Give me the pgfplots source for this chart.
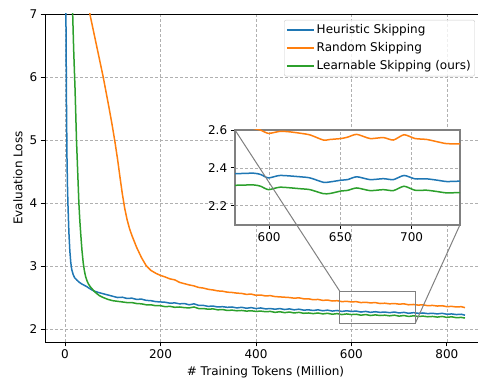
\documentclass[border=0pt]{standalone}
\usepackage{pgfplots}
\pgfplotsset{compat=1.18}
\usepackage{fontspec}
\setmainfont{DejaVu Sans}
\definecolor{cblue}{HTML}{1F77B4}
\definecolor{corange}{HTML}{FF7F0E}
\definecolor{cgreen}{HTML}{2CA02C}
\definecolor{gridc}{HTML}{B0B0B0}
\definecolor{legc}{HTML}{CCCCCC}
\begin{document}
\begin{tikzpicture}[font=\fontsize{12bp}{14bp}\selectfont]
\useasboundingbox (-45bp,-37bp) rectangle (433bp,342bp);
\begin{axis}[
  name=main, at={(0bp,0bp)}, anchor=south west,
  scale only axis, width=441bp, height=328bp,
  xmin=-42, xmax=882, ymin=1.8, ymax=7,
  xtick={0,200,400,600,800}, ytick={2,3,4,5,6,7},
  /pgf/number format/assume math mode=true,
  tick align=outside, tick pos=left, major tick length=4.3bp,
  tick style={black, line width=0.8bp},
  axis line style={black, line width=0.8bp},
  grid=major, grid style={gridc, line width=0.7bp, dash pattern=on 3bp off 2bp},
  xlabel={\# Training Tokens (Million)}, ylabel={Evaluation Loss},
  xlabel style={at={(axis description cs:0.5,-0.0906)}, anchor=center},
  ylabel style={at={(axis description cs:-0.0612,0.5)}, anchor=center},
  legend cell align=left,
  legend image code/.code={\draw[#1] (-3bp,0bp) -- (24bp,0bp);},
  legend style={at={(axis description cs:0.975,0.982)}, anchor=north east,
    draw=legc, rounded corners=2bp, fill=white, fill opacity=0.8, text opacity=1,
    inner sep=2bp, row sep=2bp,
    nodes={inner sep=2bp, text height=9bp, text depth=3bp}},
  every axis plot/.append style={line width=1.5bp},
]
\addplot[cblue] coordinates {
(0,12) (1,9) (2,6.8) (3,5.6) (4,4.75) (5,4.3) (6,4.0) (8,3.55) (10,3.25) (12,3.06) (14,2.95) (17,2.87) (20,2.82) (25,2.78) (30,2.745) (35,2.72) (40,2.70) (45,2.68) (52,2.645) (60,2.61) (70,2.585)
(80,2.565) (90,2.545) (100,2.525) (110,2.505) (120,2.51) (130,2.49) (140,2.495) (150,2.475) (160,2.48) (170,2.46)
(180,2.455) (190,2.44) (200,2.435) (210,2.43) (220,2.415) (230,2.42) (240,2.405) (250,2.41) (260,2.39) (270,2.405)
(280,2.38) (290,2.38) (300,2.365) (310,2.37) (320,2.355) (330,2.36) (340,2.35) (350,2.355) (360,2.34) (370,2.35)
(380,2.335) (390,2.345) (400,2.33) (410,2.34) (420,2.325) (430,2.33) (440,2.32) (450,2.33) (460,2.315) (470,2.325)
(480,2.31) (490,2.32) (500,2.305) (510,2.31) (520,2.30) (530,2.31) (540,2.295) (550,2.305) (560,2.29) (570,2.30)
(580,2.285) (590,2.295) (600,2.285) (610,2.29) (620,2.275) (630,2.285) (640,2.27) (650,2.28) (660,2.27) (670,2.275)
(680,2.265) (690,2.275) (700,2.26) (710,2.27) (720,2.255) (730,2.265) (740,2.255) (750,2.26) (760,2.25) (770,2.255)
(780,2.245) (790,2.255) (800,2.24) (810,2.245) (820,2.235) (830,2.24) (838,2.225)
};
\addlegendentry{Heuristic Skipping}
\addplot[corange] coordinates {
(0,14) (30,9.5) (52,7) (66,6.5) (80,6.0) (86,5.76) (92,5.52) (98,5.27) (104,5.0) (110,4.7) (115,4.42) (120,4.15) (125,3.92) (130,3.74) (135,3.6) (140,3.49) (150,3.30) (160,3.14)
(170,3.01) (180,2.935) (190,2.89) (200,2.855) (210,2.83) (220,2.80) (230,2.785) (240,2.745) (250,2.725) (260,2.705)
(270,2.69) (280,2.665) (290,2.655) (300,2.635) (310,2.625) (320,2.61) (330,2.605) (340,2.59) (350,2.585) (360,2.575)
(370,2.57) (380,2.555) (390,2.56) (400,2.54) (410,2.545) (420,2.53) (430,2.535) (440,2.52) (450,2.515) (460,2.51)
(470,2.505) (480,2.495) (490,2.50) (500,2.485) (510,2.485) (520,2.47) (530,2.475) (540,2.46) (550,2.465) (560,2.45)
(570,2.455) (580,2.44) (590,2.445) (600,2.435) (610,2.44) (620,2.425) (630,2.43) (640,2.42) (650,2.425) (660,2.41)
(670,2.415) (680,2.405) (690,2.41) (700,2.40) (710,2.405) (720,2.39) (730,2.395) (740,2.385) (750,2.39) (760,2.375)
(770,2.38) (780,2.37) (790,2.375) (800,2.36) (810,2.365) (820,2.355) (830,2.36) (838,2.345)
};
\addlegendentry{Random Skipping}
\addplot[cgreen] coordinates {
(10,12) (14,9) (16,7) (18,6.45) (21,5.8) (24,5.0) (27,4.4) (29,4.0) (31,3.72) (33,3.5) (35.5,3.25) (38,3.06) (40.5,2.93) (43,2.84) (46,2.77) (49,2.72) (53,2.675) (57,2.64) (61,2.605) (66,2.57) (72,2.535)
(80,2.505) (90,2.475) (100,2.455) (110,2.445) (120,2.435) (130,2.425) (140,2.425) (150,2.41) (160,2.405) (170,2.39)
(180,2.39) (190,2.375) (200,2.375) (210,2.36) (220,2.365) (230,2.35) (240,2.355) (250,2.345) (260,2.34) (270,2.355)
(280,2.33) (290,2.33) (300,2.32) (310,2.325) (320,2.31) (330,2.315) (340,2.30) (350,2.305) (360,2.295) (370,2.30)
(380,2.29) (390,2.295) (400,2.285) (410,2.29) (420,2.28) (430,2.285) (440,2.27) (450,2.28) (460,2.265) (470,2.275)
(480,2.26) (490,2.27) (500,2.255) (510,2.26) (520,2.25) (530,2.26) (540,2.245) (550,2.255) (560,2.24) (570,2.25)
(580,2.235) (590,2.245) (600,2.235) (610,2.24) (620,2.225) (630,2.235) (640,2.22) (650,2.23) (660,2.22) (670,2.225)
(680,2.215) (690,2.225) (700,2.21) (710,2.22) (720,2.205) (730,2.215) (740,2.205) (750,2.21) (760,2.20) (770,2.205)
(780,2.195) (790,2.205) (800,2.19) (810,2.20) (820,2.185) (830,2.19) (838,2.18)
};
\addlegendentry{Learnable Skipping (ours)}
\draw[gray, line width=1bp] (axis cs:576,2.1) rectangle (axis cs:734,2.6);
\coordinate (rTL) at (axis cs:576,2.6);
\coordinate (rBR) at (axis cs:734,2.1);
\end{axis}
\begin{axis}[
  name=inset, at={(190bp,117.3bp)}, anchor=south west,
  scale only axis, width=225bp, height=94.7bp,
  xmin=576, xmax=734, ymin=2.1, ymax=2.6,
  xtick={600,650,700}, ytick={2.2,2.4,2.6},
  /pgf/number format/assume math mode=true,
  yticklabel style={/pgf/number format/.cd, fixed, fixed zerofill, precision=1},
  tick align=outside, tick pos=left, major tick length=4.3bp,
  tick style={black, line width=0.8bp},
  axis line style={gray, line width=1.7bp},
  axis background/.style={fill=white},
  grid=major, grid style={gridc, line width=0.7bp, dash pattern=on 3bp off 2bp},
  every axis plot/.append style={line width=1.5bp},
]
\addplot[cblue, smooth, tension=0.4] coordinates {
(576,2.369) (589,2.372) (594,2.365) (599.5,2.347) (607.7,2.36) (621.7,2.353) (628.7,2.347) (638,2.324) (642.8,2.326) (650.5,2.335) (655,2.338) (661.5,2.353) (670.8,2.338) (680.2,2.343) (687.2,2.338) (694.7,2.36) (702.4,2.342) (710.6,2.342) (718,2.335) (724.6,2.328) (734,2.33)
};
\addplot[corange, smooth, tension=0.4] coordinates {
(576,2.63) (585,2.615) (593.7,2.6) (599.5,2.582) (607.7,2.593) (614.7,2.59) (621.7,2.583) (628.7,2.574) (638,2.547) (642.8,2.55) (650.5,2.555) (655,2.562) (661.5,2.577) (670.8,2.555) (680.2,2.56) (687.2,2.547) (694.7,2.575) (702.4,2.555) (710.6,2.55) (718,2.538) (724.6,2.528) (734,2.527)
};
\addplot[cgreen, smooth, tension=0.4] coordinates {
(576,2.308) (589,2.31) (594,2.303) (599.5,2.285) (607.7,2.298) (621.7,2.29) (628.7,2.285) (638,2.264) (642.8,2.265) (650.5,2.278) (655,2.281) (661.5,2.294) (670.8,2.28) (680.2,2.285) (687.2,2.28) (694.7,2.303) (702.4,2.282) (710.6,2.282) (718,2.275) (724.6,2.268) (734,2.27)
};
\coordinate (iTL) at (rel axis cs:0,1);
\coordinate (iBR) at (rel axis cs:1,0);
\end{axis}
\draw[gray, line width=1bp] (rTL) -- (iTL);
\draw[gray, line width=1bp] (rBR) -- (iBR);
\end{tikzpicture}
\end{document}
